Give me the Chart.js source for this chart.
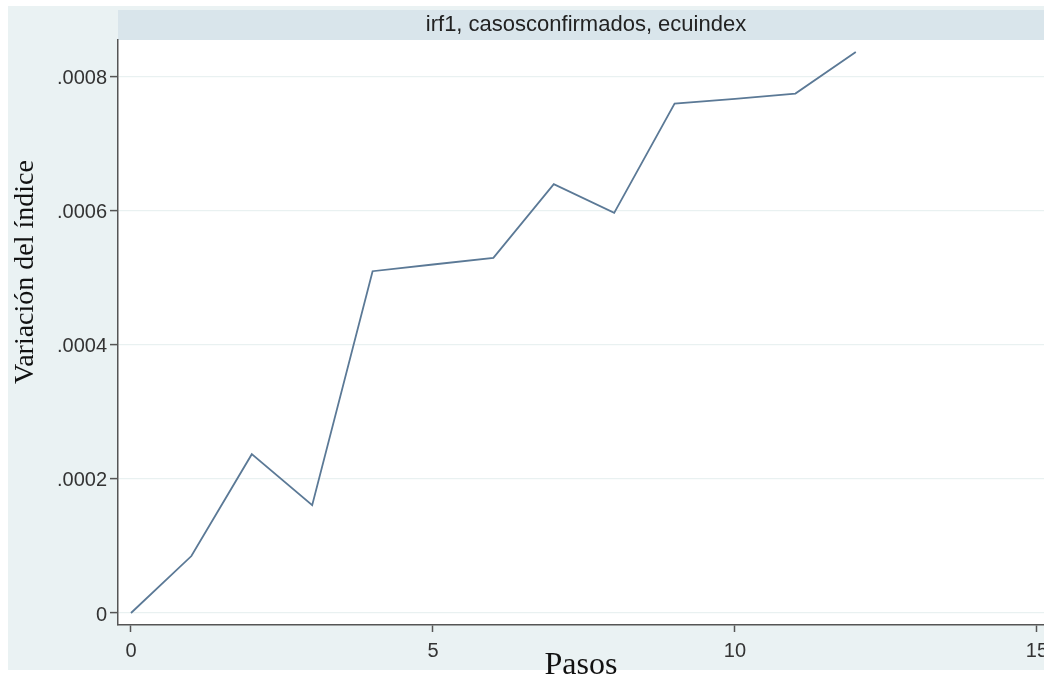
<!DOCTYPE html>
<html>
<head>
<meta charset="utf-8">
<script src="https://cdn.jsdelivr.net/npm/chart.js@4"></script>
<style>
  html, body { margin: 0; padding: 0; background: #ffffff; }
  #wrap { width: 1044px; height: 674px; }
</style>
</head>
<body>
<div id="wrap"><canvas id="irf" width="1044" height="674"></canvas></div>
<script>
// Impulse response: casosconfirmados -> ecuindex (irf1)
const pasos = [0, 1, 2, 3, 4, 5, 6, 7, 8, 9, 10, 11, 12];
const respuesta = [0, 0.000085, 0.000237, 0.000161, 0.000510, 0.000520, 0.000530,
                   0.000640, 0.000597, 0.000760, 0.000767, 0.000775, 0.000837];
const xTicks = [0, 5, 10, 15];
const yTicks = [0, 0.0002, 0.0004, 0.0006, 0.0008];
const panelTitle = 'irf1, casosconfirmados, ecuindex';
const yTitle = 'Variación del índice';

const fmtY = v => (v === 0 ? '0' : v.toFixed(4).replace(/^0/, ''));

// Panel background, header strip with its caption, and the vertical axis title
const panelDecor = {
  id: 'panelDecor',
  beforeDraw(chart) {
    const { ctx, chartArea } = chart;
    ctx.save();
    ctx.fillStyle = '#ffffff';
    ctx.fillRect(0, 0, chart.width, chart.height);
    ctx.fillStyle = '#eaf2f3';
    ctx.fillRect(8, 6, chart.width - 8, 664);
    ctx.fillStyle = '#ffffff';
    ctx.fillRect(chartArea.left, chartArea.top, chartArea.right - chartArea.left, chartArea.bottom - chartArea.top);
    ctx.fillStyle = '#d9e5eb';
    ctx.fillRect(chartArea.left, 10, chartArea.right - chartArea.left, chartArea.top - 10);
    ctx.fillStyle = '#222222';
    ctx.font = '22px "Liberation Sans", Arial, sans-serif';
    ctx.textAlign = 'center';
    ctx.textBaseline = 'middle';
    ctx.fillText(panelTitle, 586, 25);

    ctx.translate(33, 272);
    ctx.rotate(-Math.PI / 2);
    ctx.fillStyle = '#111111';
    ctx.font = '28px "Liberation Serif", "Times New Roman", serif';
    ctx.textAlign = 'center';
    ctx.textBaseline = 'alphabetic';
    ctx.fillText(yTitle, 0, 0);
    ctx.restore();
  }
};

new Chart(document.getElementById('irf'), {
  type: 'line',
  data: {
    datasets: [{
      data: pasos.map((p, i) => ({ x: p, y: respuesta[i] })),
      borderColor: '#5b7996',
      borderWidth: 1.8,
      pointRadius: 0,
      tension: 0,
      fill: false
    }]
  },
  options: {
    responsive: false,
    animation: false,
    layout: { padding: { left: 0, top: 40, right: 0, bottom: 0 } },
    plugins: { legend: { display: false }, tooltip: { enabled: false }, title: { display: false } },
    scales: {
      x: {
        type: 'linear',
        min: -0.215,
        max: 15.116,
        afterBuildTicks: s => { s.ticks = xTicks.map(v => ({ value: v })); },
        afterFit: s => { s.height = 49; s.paddingRight = 0; s.paddingLeft = 0; },
        border: { display: true, color: '#555555', width: 1.5 },
        grid: { drawOnChartArea: false, drawTicks: true, tickLength: 7, tickColor: '#555555', tickWidth: 1.5 },
        ticks: {
          padding: 7,
          color: '#333333',
          font: { family: '"Liberation Sans", Arial, sans-serif', size: 20 },
          maxRotation: 0,
          autoSkip: false
        },
        title: {
          display: true,
          text: 'Pasos',
          color: '#111111',
          font: { family: '"Liberation Serif", "Times New Roman", serif', size: 32 },
          padding: { top: 0, bottom: -11 }
        }
      },
      y: {
        type: 'linear',
        min: -0.0000179,
        max: 0.000855,
        afterBuildTicks: s => { s.ticks = yTicks.map(v => ({ value: v })); },
        afterFit: s => { s.width = 118; s.paddingTop = 0; s.paddingBottom = 0; },
        border: { display: true, color: '#555555', width: 1.5 },
        grid: { color: '#e9f1f1', lineWidth: 1.2, drawTicks: true, tickLength: 8, tickColor: '#555555', tickWidth: 1.5 },
        ticks: {
          padding: 3,
          labelOffset: 2,
          color: '#333333',
          font: { family: '"Liberation Sans", Arial, sans-serif', size: 20 },
          callback: v => fmtY(v),
          autoSkip: false
        }
      }
    }
  },
  plugins: [panelDecor]
});
</script>
</body>
</html>
